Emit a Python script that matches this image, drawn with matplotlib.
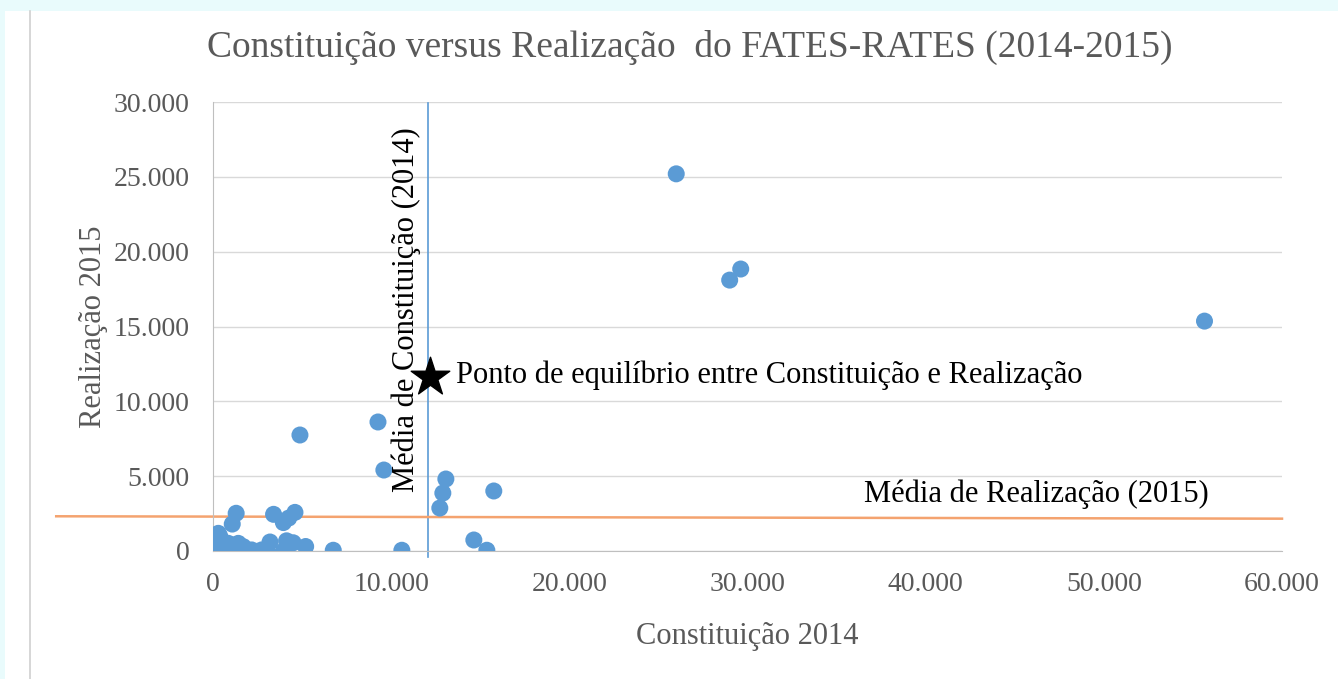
import matplotlib
matplotlib.use("Agg")
import matplotlib.pyplot as plt
from matplotlib.patches import Rectangle
from matplotlib.lines import Line2D

# Data (Constituição 2014, Realização 2015)
constituicao_2014 = [26000, 29000, 29620, 55650, 4880, 9260, 9590, 13070, 12900, 12730,
                     15760, 14640, 15370, 10600, 6750,
                     1300, 1080, 3400, 4600, 3950, 4250,
                     110, 390, 200, 860, 1420, 1230, 2170, 3010, 3200, 3950, 4130,
                     4500, 5200, 300, 670, 950, 1700, 2730, 200]
realizacao_2015 = [25200, 18100, 18840, 15360, 7750, 8620, 5410, 4810, 3870, 2870,
                   4010, 735, 50, 50, 50,
                   2520, 1800, 2450, 2580, 1900, 2200,
                   70, 960, 510, 510, 510, 0, 70, 70, 600, 0, 680,
                   550, 300, 1180, 200, 0, 290, 70, 70]

media_constituicao = 12060
media_realizacao = 2240
ponto_equilibrio = (12170, 11620)

x_ticks = [0, 10000, 20000, 30000, 40000, 50000, 60000]
y_ticks = [0, 5000, 10000, 15000, 20000, 25000, 30000]

def fmt(v):
    return f"{v:,.0f}".replace(",", ".")

serif = ["Liberation Serif", "DejaVu Serif"]
gray = "#595959"
blue = "#5B9BD5"
orange = "#F4A36F"

W, H = 1338, 679
fig = plt.figure(figsize=(W / 100, H / 100), dpi=100)
fig.patch.set_facecolor("white")

# background decoration
fig.add_artist(Rectangle((0, 1 - 11 / H), 1, 11 / H, transform=fig.transFigure,
                         facecolor="#E9FBFC", edgecolor="none", zorder=-5))
fig.add_artist(Rectangle((0, 0), 5 / W, 1, transform=fig.transFigure,
                         facecolor="#E9FBFC", edgecolor="none", zorder=-5))
fig.add_artist(Line2D([30 / W, 30 / W], [0, 1 - 11 / H], transform=fig.transFigure,
                      color="#D0D0D0", lw=1.2, zorder=-4))

x0, x1 = 213, 1282
y0, y1 = 102, 551
ax = fig.add_axes([x0 / W, 1 - y1 / H, (x1 - x0) / W, (y1 - y0) / H])
ax.set_facecolor("none")
ax.set_xlim(0, 60000)
ax.set_ylim(0, 30000)

ax.set_xticks(x_ticks)
ax.set_xticklabels([fmt(v) for v in x_ticks], fontfamily=serif, fontsize=20, color=gray)
ax.set_yticks(y_ticks)
ax.set_yticklabels([fmt(v) for v in y_ticks], fontfamily=serif, fontsize=20, color=gray)
ax.tick_params(axis="x", length=0, pad=15)
ax.tick_params(axis="y", length=0, pad=17)

ax.grid(axis="y", color="#D9D9D9", lw=1)
ax.set_axisbelow(True)
for s in ["top", "right"]:
    ax.spines[s].set_visible(False)
ax.spines["left"].set_color("#BFBFBF")
ax.spines["bottom"].set_color("#BFBFBF")

ax.scatter(constituicao_2014, realizacao_2015, s=150, color=blue, zorder=3,
           edgecolors="none")

# mean lines
ax.plot([media_constituicao, media_constituicao], [-400, 29900], color=blue, lw=1.2,
        clip_on=False, zorder=2)
ax.plot([-8800, 60000], [media_realizacao + 80, media_realizacao - 80], color=orange,
        lw=1.8, clip_on=False, zorder=2)

ax.scatter([ponto_equilibrio[0]], [ponto_equilibrio[1]], marker="*", s=850,
           color="black", zorder=4)
ax.text(ponto_equilibrio[0] + 1450, ponto_equilibrio[1] + 100,
        "Ponto de equilíbrio entre Constituição e Realização",
        fontfamily=serif, fontsize=22, color="black", va="center", ha="left")
ax.text(36550, 3800, "Média de Realização (2015)", fontfamily=serif, fontsize=22,
        color="black", va="center", ha="left")
ax.text(media_constituicao - 1200, 16100, "Média de Constituição (2014)",
        fontfamily=serif, fontsize=22, color="black", rotation=90,
        va="center", ha="center")

ax.set_xlabel("Constituição 2014", fontfamily=serif, fontsize=22, color=gray,
              labelpad=18)
ax.set_ylabel("Realização 2015", fontfamily=serif, fontsize=22, color=gray,
              labelpad=4)

fig.text(690 / W, 1 - 47 / H, "Constituição versus Realização  do FATES-RATES (2014-2015)",
         fontfamily=serif, fontsize=27, color=gray, ha="center", va="center")

fig.savefig("out.png", dpi=100)
